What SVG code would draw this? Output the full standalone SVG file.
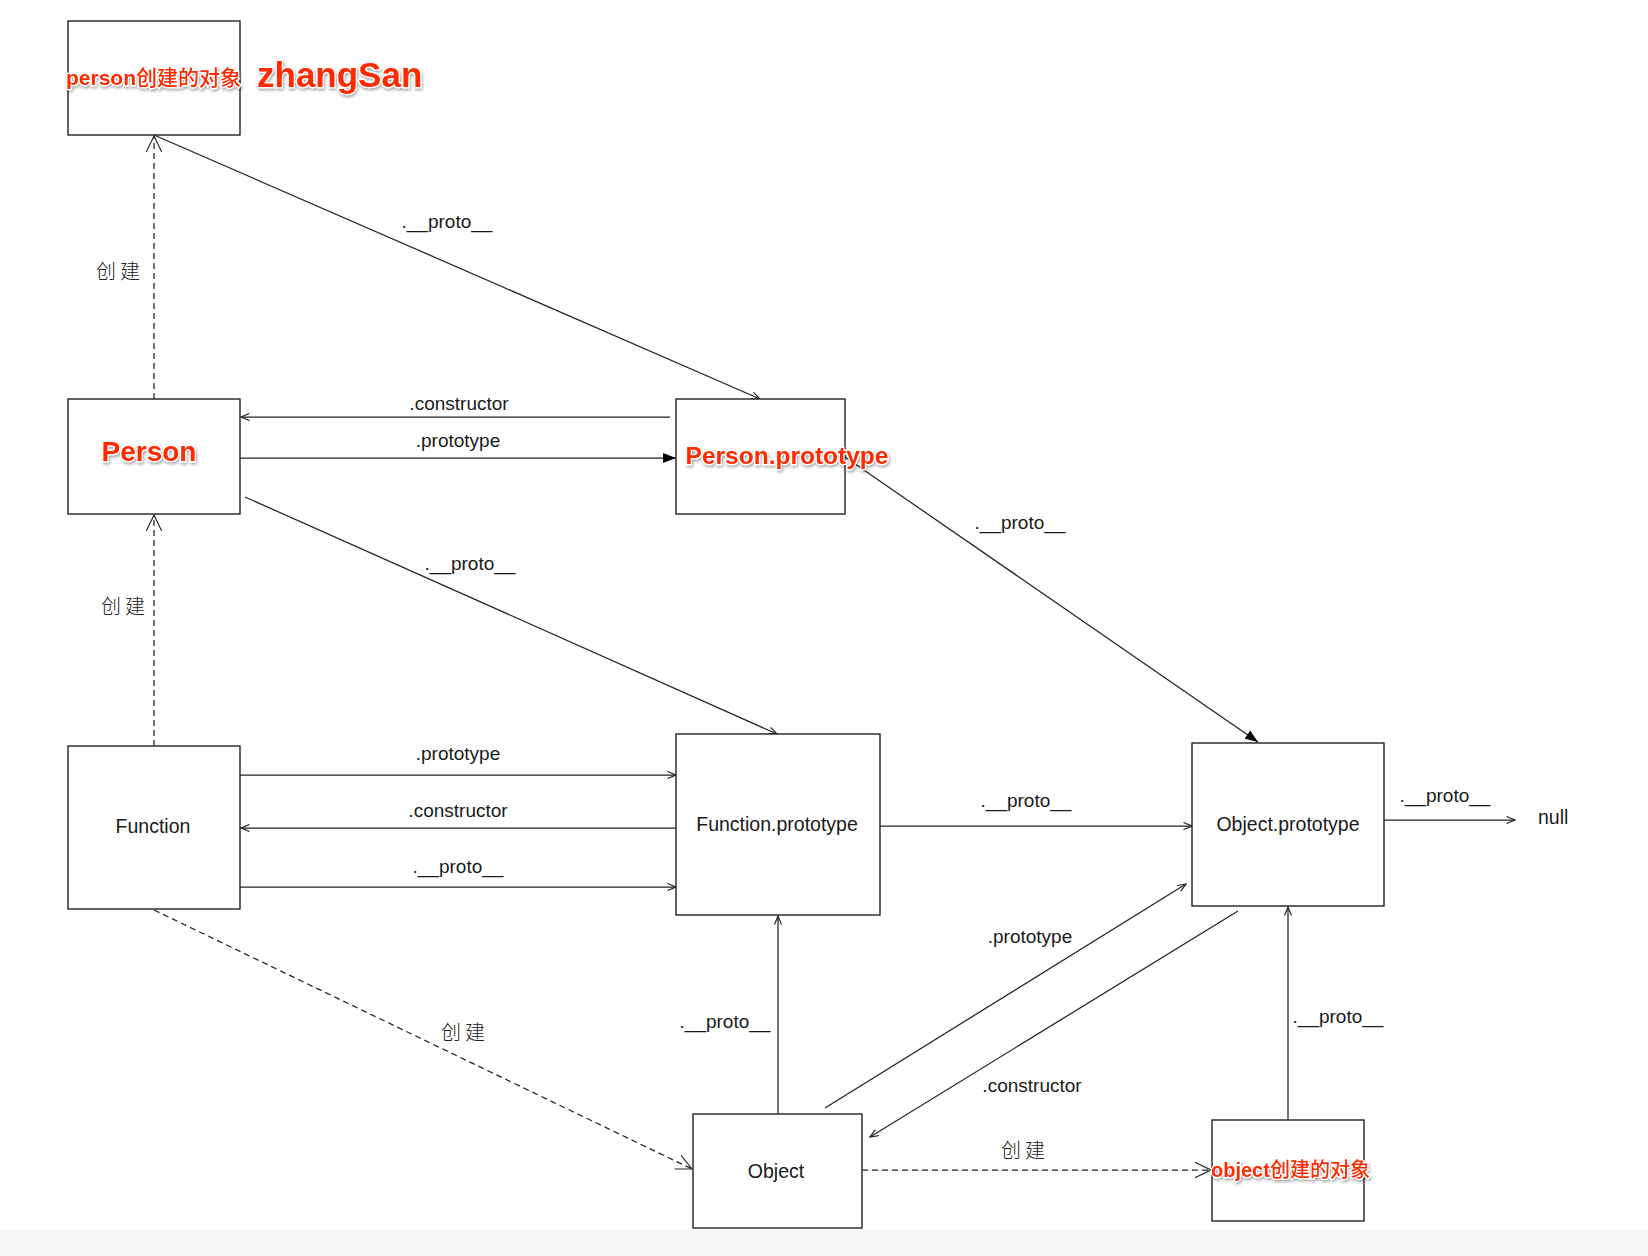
<svg xmlns="http://www.w3.org/2000/svg" width="1648" height="1256" viewBox="0 0 1648 1256">
<defs>
<style>
.box{fill:#fff;stroke:#222;stroke-width:1.4}
.ln{fill:none;stroke:#222;stroke-width:1.25}
.dash{stroke-dasharray:6,4}
.lbl{font-family:"Liberation Sans",Arial,"Noto Sans CJK SC",sans-serif;font-size:19px;fill:#1a1a1a;text-anchor:middle}
.node{font-family:"Liberation Sans",Arial,"Noto Sans CJK SC",sans-serif;font-size:19.5px;fill:#1a1a1a;text-anchor:middle}
.start{text-anchor:start}
.cjk{font-family:"Noto Sans CJK SC",sans-serif;font-size:20px;fill:#222;font-weight:300;letter-spacing:4px}
.red{font-family:"Liberation Sans",Arial,"Noto Sans CJK SC",sans-serif;font-weight:bold;fill:#ff2a00;stroke:#fff;stroke-width:2.5px;paint-order:stroke;filter:url(#sh)}
.rc{font-family:"Noto Sans CJK SC",sans-serif;font-weight:500}
</style>
<filter id="sh" x="-10%" y="-30%" width="120%" height="170%">
<feDropShadow dx="1" dy="2" stdDeviation="1.6" flood-color="#000" flood-opacity="0.35"/>
</filter>
<marker id="aOpen" viewBox="0 0 10 8" refX="9" refY="4" markerWidth="10" markerHeight="8" markerUnits="userSpaceOnUse" orient="auto">
<path d="M0.5,0.5 L9,4 L0.5,7.5" fill="none" stroke="#222" stroke-width="1.2"/>
</marker>
<marker id="aBig" viewBox="0 0 17 16" refX="16" refY="8" markerWidth="17" markerHeight="16" markerUnits="userSpaceOnUse" orient="auto">
<path d="M0,0.3 L16,8 L0,15.7" fill="none" stroke="#222" stroke-width="1.1"/>
</marker>
<marker id="aFill" viewBox="0 0 13 10" refX="13" refY="5" markerWidth="13" markerHeight="10" markerUnits="userSpaceOnUse" orient="auto">
<path d="M0,0 L13,5 L0,10 z" fill="#000"/>
</marker>
</defs>
<rect x="0" y="0" width="1648" height="1256" fill="#fff"/>
<rect x="0" y="1229" width="1648" height="27" fill="#f7f7f7"/>

<g id="connectors">
<line class="ln dash" x1="154" y1="399" x2="154" y2="136" marker-end="url(#aBig)"/>
<line class="ln" x1="154" y1="135" x2="760" y2="399" marker-end="url(#aOpen)"/>
<line class="ln" x1="670" y1="417" x2="241" y2="417" marker-end="url(#aOpen)"/>
<line class="ln" x1="240" y1="458" x2="676" y2="458" marker-end="url(#aFill)"/>
<line class="ln" x1="245" y1="497" x2="777" y2="734" marker-end="url(#aOpen)"/>
<line class="ln" x1="845" y1="457" x2="1258" y2="742" marker-end="url(#aFill)"/>
<line class="ln dash" x1="154" y1="746" x2="154" y2="515" marker-end="url(#aBig)"/>
<line class="ln" x1="240" y1="775" x2="676" y2="775" marker-end="url(#aOpen)"/>
<line class="ln" x1="676" y1="828" x2="241" y2="828" marker-end="url(#aOpen)"/>
<line class="ln" x1="240" y1="887" x2="676" y2="887" marker-end="url(#aOpen)"/>
<line class="ln" x1="880" y1="826" x2="1192" y2="826" marker-end="url(#aOpen)"/>
<line class="ln" x1="1384" y1="820" x2="1515" y2="820" marker-end="url(#aOpen)"/>
<line class="ln dash" x1="154" y1="910" x2="692" y2="1169" marker-end="url(#aBig)"/>
<line class="ln" x1="778" y1="1114" x2="778" y2="916" marker-end="url(#aOpen)"/>
<line class="ln" x1="825" y1="1108" x2="1186" y2="884" marker-end="url(#aOpen)"/>
<line class="ln" x1="1238" y1="911" x2="870" y2="1137" marker-end="url(#aOpen)"/>
<line class="ln dash" x1="862" y1="1170" x2="1211" y2="1170" marker-end="url(#aBig)"/>
<line class="ln" x1="1288" y1="1120" x2="1288" y2="907" marker-end="url(#aOpen)"/>
<text class="lbl" x="447" y="228">.__proto__</text>
<text class="cjk" x="96" y="279">创建</text>
<text class="lbl" x="459" y="410">.constructor</text>
<text class="lbl" x="458" y="447">.prototype</text>
<text class="lbl" x="470" y="570">.__proto__</text>
<text class="lbl" x="1020" y="529">.__proto__</text>
<text class="cjk" x="101" y="614">创建</text>
<text class="lbl" x="458" y="760">.prototype</text>
<text class="lbl" x="458" y="817">.constructor</text>
<text class="lbl" x="458" y="873">.__proto__</text>
<text class="lbl" x="1026" y="807">.__proto__</text>
<text class="lbl" x="1445" y="802">.__proto__</text>
<text class="lbl" x="1030" y="943">.prototype</text>
<text class="cjk" x="441" y="1040">创建</text>
<text class="lbl" x="725" y="1028">.__proto__</text>
<text class="lbl" x="1338" y="1023">.__proto__</text>
<text class="lbl" x="1032" y="1092">.constructor</text>
<text class="cjk" x="1001" y="1158">创建</text>
</g>

<g id="node-person-obj">
<rect class="box" x="68" y="21" width="172" height="114"/>
<text class="red" x="66" y="85" font-size="21">person<tspan class="rc">创建的对象</tspan></text>
<text class="red" x="257" y="87" font-size="35">zhangSan</text>
</g>
<g id="node-person">
<rect class="box" x="68" y="399" width="172" height="115"/>
<text class="red" x="149" y="461" font-size="28" text-anchor="middle">Person</text>
</g>
<g id="node-person-prototype">
<rect class="box" x="676" y="399" width="169" height="115"/>
<text class="red" x="787" y="464" font-size="24.5" text-anchor="middle">Person.prototype</text>
</g>
<g id="node-function">
<rect class="box" x="68" y="746" width="172" height="163"/>
<text class="node" x="153" y="833">Function</text>
</g>
<g id="node-function-prototype">
<rect class="box" x="676" y="734" width="204" height="181"/>
<text class="node" x="777" y="831">Function.prototype</text>
</g>
<g id="node-object-prototype">
<rect class="box" x="1192" y="743" width="192" height="163"/>
<text class="node" x="1288" y="831">Object.prototype</text>
</g>
<g id="node-null">
<text class="node start" x="1538" y="824">null</text>
</g>
<g id="node-object">
<rect class="box" x="693" y="1114" width="169" height="114"/>
<text class="node" x="776" y="1178">Object</text>
</g>
<g id="node-object-obj">
<rect class="box" x="1212" y="1120" width="152" height="101"/>
<text class="red" x="1211" y="1177" font-size="20">object<tspan class="rc">创建的对象</tspan></text>
</g>
</svg>
